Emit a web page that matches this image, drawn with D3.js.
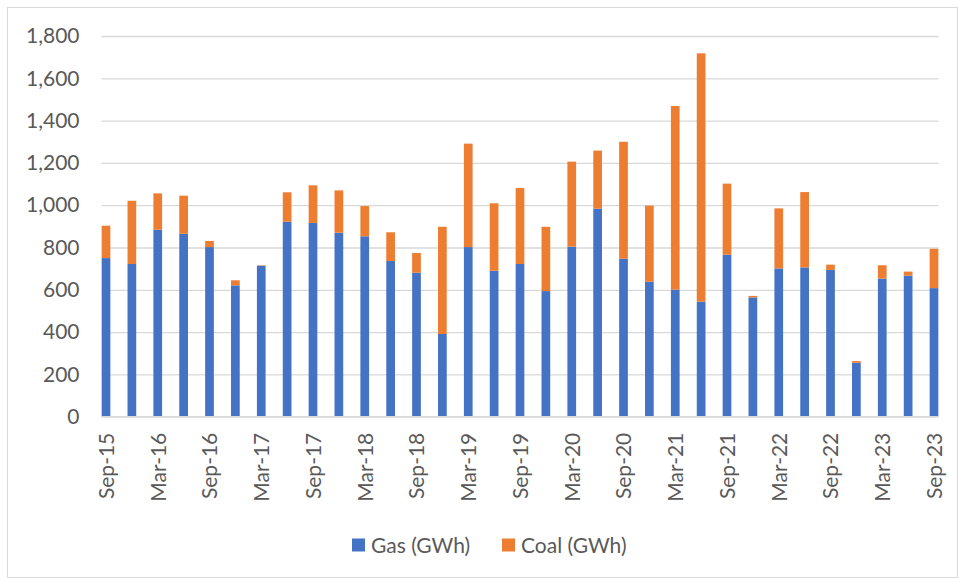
<!DOCTYPE html>
<html>
<head>
<meta charset="utf-8">
<script src="https://cdn.jsdelivr.net/npm/d3@7"></script>
<style>
  body { margin: 0; background: #fff; }
  svg text { font-family: Lato, "Open Sans", sans-serif; fill: #595959; }
</style>
</head>
<body>
<div class="chart"></div>
<script>
// quarterly categories
const quarters = [
  "Sep-15", "Dec-15", "Mar-16", "Jun-16", "Sep-16", "Dec-16", "Mar-17", "Jun-17",
  "Sep-17", "Dec-17", "Mar-18", "Jun-18", "Sep-18", "Dec-18", "Mar-19", "Jun-19",
  "Sep-19", "Dec-19", "Mar-20", "Jun-20", "Sep-20", "Dec-20", "Mar-21", "Jun-21",
  "Sep-21", "Dec-21", "Mar-22", "Jun-22", "Sep-22", "Dec-22", "Mar-23", "Jun-23",
  "Sep-23"
];
const gas = [
  750, 722, 884, 865, 802, 621, 714, 922,
  916, 870, 853, 736, 681, 391, 802, 690,
  722, 594, 804, 984, 747, 638, 601, 544,
  766, 564, 701, 706, 694, 255, 653, 667,
  608
];
const coal = [
  153, 299, 172, 180, 29, 24, 2, 139,
  178, 200, 143, 136, 93, 507, 489, 319,
  359, 304, 402, 274, 553, 360, 868, 1174,
  336, 7, 284, 356, 25, 8, 63, 19,
  186
];
const yTicks = [0, 200, 400, 600, 800, 1000, 1200, 1400, 1600, 1800];
const seriesNames = ["Gas (GWh)", "Coal (GWh)"];
const colors = ["#4472c4", "#ed7d31"];

document.addEventListener("DOMContentLoaded", function () {
  const width = 958, height = 578;
  const barWidth = 8.7;
  const fontSize = 21;

  const svg = d3.select(".chart").append("svg")
    .attr("width", width)
    .attr("height", height);

  // chart area border
  svg.append("rect")
    .attr("x", 7.5).attr("y", 7.5)
    .attr("width", width - 8).attr("height", height - 8)
    .attr("fill", "none")
    .attr("stroke", "#d9d9d9");

  const x = d3.scalePoint().domain(quarters).range([106, 934]);
  const y = d3.scaleLinear().domain([0, 1800]).range([416.7, 36]);

  // gridlines + y labels
  const yAxis = d3.axisLeft(y)
    .tickValues(yTicks)
    .tickSize(-(938.5 - 101.5))
    .tickFormat(d3.format(","));
  const gy = svg.append("g")
    .attr("transform", "translate(101.5,0)")
    .call(yAxis);
  gy.select(".domain").remove();
  gy.selectAll(".tick line").attr("stroke", "#d9d9d9").attr("stroke-width", 1.3);
  gy.selectAll(".tick text")
    .attr("x", -22)
    .attr("font-size", fontSize)
    .attr("fill", "#595959");

  // stacked data
  const rows = quarters.map((q, i) => ({ q: q, gas: gas[i], coal: coal[i] }));
  const stack = d3.stack().keys(["gas", "coal"])(rows);

  svg.append("g").selectAll("g")
    .data(stack)
    .enter().append("g")
    .attr("fill", (d, i) => colors[i])
    .selectAll("rect")
    .data(d => d)
    .enter().append("rect")
    .attr("x", d => x(d.data.q) - barWidth / 2)
    .attr("width", barWidth)
    .attr("y", d => y(d[1]))
    .attr("height", d => y(d[0]) - y(d[1]));

  // category axis, every second quarter labelled
  const xAxis = d3.axisBottom(x)
    .tickValues(quarters.filter((q, i) => i % 2 === 0))
    .tickSize(0);
  const gx = svg.append("g")
    .attr("transform", "translate(0,416.7)")
    .call(xAxis);
  gx.select(".domain")
    .attr("d", "M101.5,0H938.5")
    .attr("stroke", "#d9d9d9")
    .attr("stroke-width", 1.3);
  gx.selectAll(".tick text")
    .attr("font-size", fontSize)
    .attr("fill", "#595959")
    .attr("text-anchor", "end")
    .attr("dy", "0.35em")
    .attr("transform", "translate(0,16) rotate(-90)")
    .attr("x", 0).attr("y", 0);

  // legend
  const legendX = [352, 502];
  const legend = svg.append("g");
  seriesNames.forEach((name, i) => {
    legend.append("rect")
      .attr("x", legendX[i]).attr("y", 538.5)
      .attr("width", 13).attr("height", 13)
      .attr("fill", colors[i]);
    legend.append("text")
      .attr("x", legendX[i] + 19).attr("y", 552.5)
      .attr("font-size", fontSize)
      .text(name);
  });
});
</script>
</body>
</html>
